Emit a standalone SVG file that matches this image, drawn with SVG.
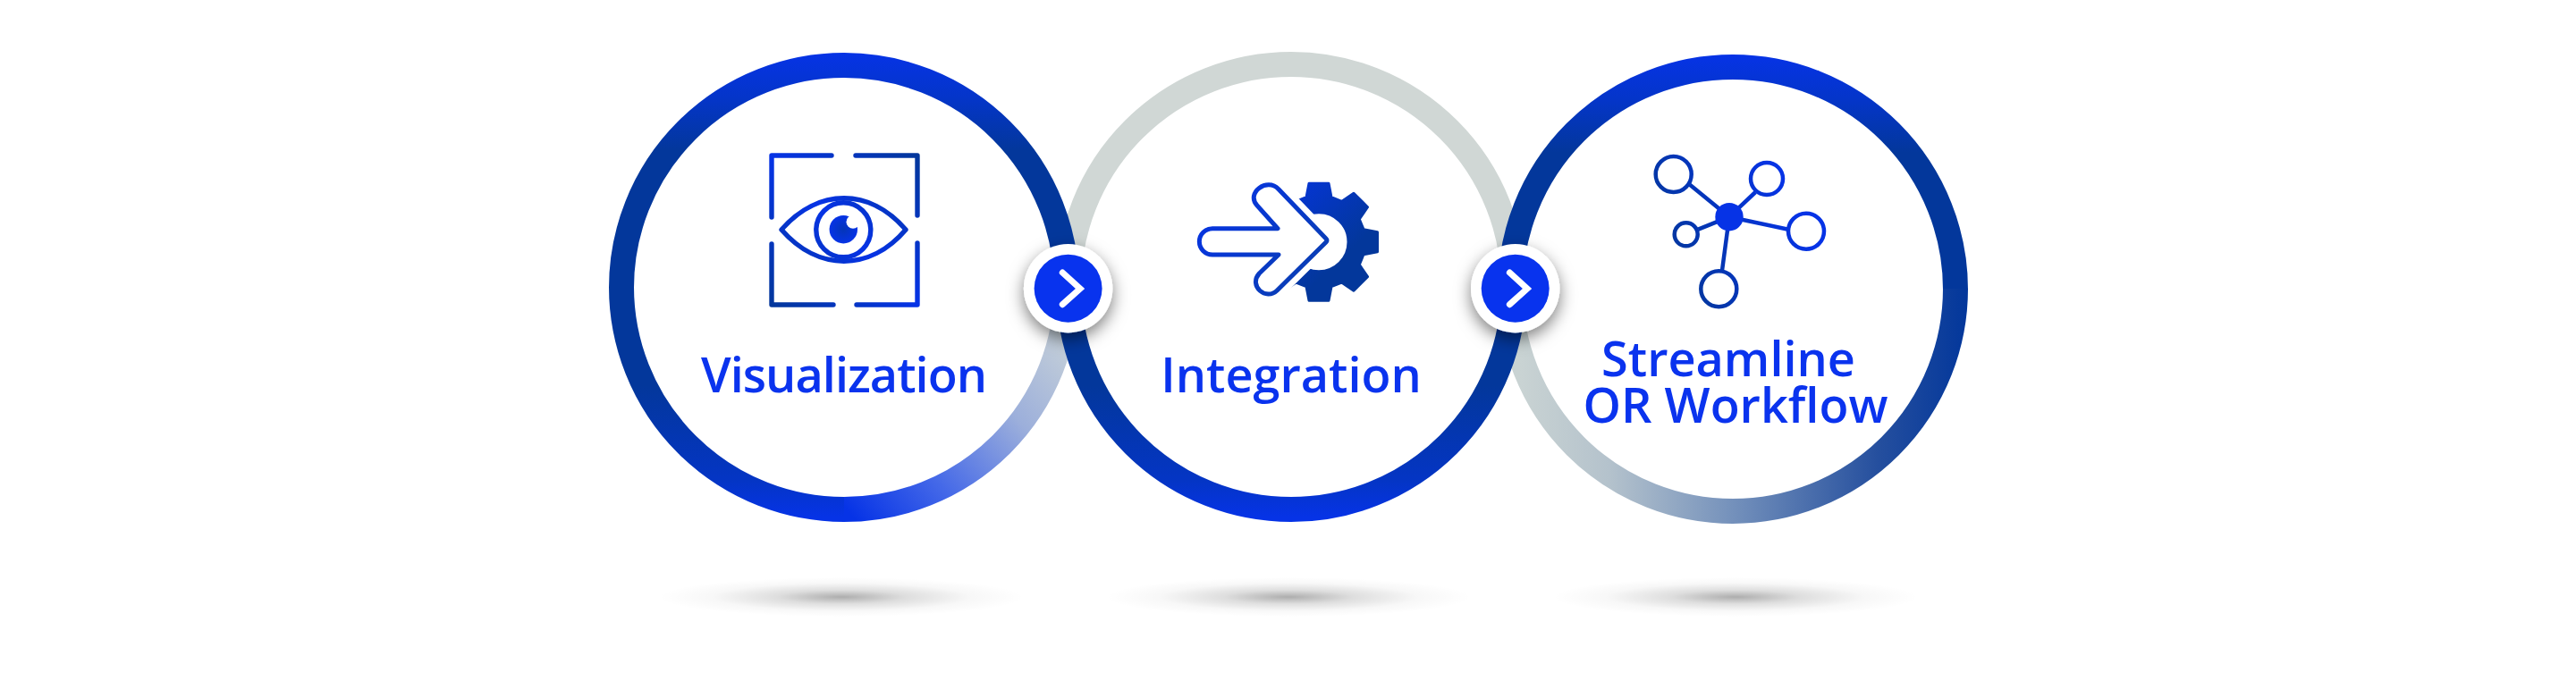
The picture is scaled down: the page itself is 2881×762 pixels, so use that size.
<svg xmlns="http://www.w3.org/2000/svg" width="2881" height="762" viewBox="0 0 2881 762">
<style>
.ring{fill:none;stroke-width:28}
.label{font-family:"Open Sans","Liberation Sans",sans-serif;font-weight:600;font-size:54px;fill:#0a33ee;text-anchor:middle}
.eye{fill:none;stroke:url(#eyeG);stroke-width:5.4;stroke-linecap:round;stroke-linejoin:round}
.net{fill:none;stroke:url(#netG);stroke-width:4.5}
.halo{fill:#fff;stroke:#fff;stroke-width:18;stroke-linejoin:round}
.btnOuter{fill:#fff;filter:url(#sh)}
.btnInner{fill:#0833ee}
.chev{fill:none;stroke:#fff;stroke-width:7;stroke-linecap:round;stroke-linejoin:miter}
</style>
<defs>
<filter id="sh" x="-60%" y="-60%" width="220%" height="220%"><feDropShadow dx="0" dy="7" stdDeviation="9" flood-color="#000" flood-opacity="0.5"/></filter>
<linearGradient id="c1t" gradientUnits="userSpaceOnUse" x1="0" y1="58" x2="0" y2="321"><stop offset="0" stop-color="#0633e6"/><stop offset=".2" stop-color="#0435c8"/><stop offset=".42" stop-color="#03379b"/></linearGradient>
<linearGradient id="c1b" gradientUnits="userSpaceOnUse" x1="0" y1="321" x2="0" y2="584"><stop offset=".42" stop-color="#03379b"/><stop offset=".82" stop-color="#0435c4"/><stop offset=".98" stop-color="#0633e6"/></linearGradient>
<linearGradient id="c1f" gradientUnits="userSpaceOnUse" x1="960" y1="585" x2="1200" y2="370"><stop offset="0" stop-color="#0633e6"/><stop offset=".3" stop-color="#4569e8"/><stop offset=".65" stop-color="#9cafdb"/><stop offset="1" stop-color="#c9d3d8"/></linearGradient>
<linearGradient id="c3t" gradientUnits="userSpaceOnUse" x1="0" y1="60" x2="0" y2="323"><stop offset="0" stop-color="#0633e6"/><stop offset=".2" stop-color="#0435c8"/><stop offset=".42" stop-color="#03379b"/></linearGradient>
<linearGradient id="c3f" gradientUnits="userSpaceOnUse" x1="1700" y1="0" x2="2200" y2="0"><stop offset="0" stop-color="#c9d3d3"/><stop offset=".2" stop-color="#b4c2cc"/><stop offset=".48" stop-color="#7390bb"/><stop offset=".8" stop-color="#254f9e"/><stop offset="1" stop-color="#03379b"/></linearGradient>
<linearGradient id="eyeG" gradientUnits="userSpaceOnUse" x1="860" y1="340" x2="1028" y2="174"><stop offset="0" stop-color="#03379b"/><stop offset=".5" stop-color="#0633e6"/><stop offset="1" stop-color="#03379b"/></linearGradient>
<radialGradient id="pup"><stop offset="0" stop-color="#0435b8"/><stop offset="1" stop-color="#0633e6"/></radialGradient>
<linearGradient id="arG" gradientUnits="userSpaceOnUse" x1="1340" y1="220" x2="1470" y2="330"><stop offset="0" stop-color="#0633e6"/><stop offset="1" stop-color="#0a3fb0"/></linearGradient>
<linearGradient id="gearG" gradientUnits="userSpaceOnUse" x1="-35" y1="-65" x2="35" y2="10"><stop offset="0" stop-color="#0535d8"/><stop offset="1" stop-color="#03379b"/></linearGradient>
<linearGradient id="netG" gradientUnits="userSpaceOnUse" x1="1870" y1="300" x2="2010" y2="235"><stop offset="0" stop-color="#03379b"/><stop offset="1" stop-color="#0633e6"/></linearGradient>
<radialGradient id="floor"><stop offset="0" stop-color="#000" stop-opacity=".32"/><stop offset=".35" stop-color="#000" stop-opacity=".13"/><stop offset=".7" stop-color="#000" stop-opacity=".03"/><stop offset="1" stop-color="#000" stop-opacity="0"/></radialGradient>
</defs>
<rect width="2881" height="762" fill="#fff"/>
<g id="shadows">
<ellipse cx="941" cy="668" rx="205" ry="22" fill="url(#floor)"/>
<ellipse cx="1441" cy="668" rx="205" ry="22" fill="url(#floor)"/>
<ellipse cx="1941" cy="668" rx="205" ry="22" fill="url(#floor)"/>
</g>
<g id="ring-integration-top"><path class="ring" stroke="#d0d7d5" d="M1195,321A249,249 0 0 1 1693,321"/></g>
<g id="node-visualization">
<path class="ring" stroke="url(#c1t)" d="M695,322A249,249 0 0 1 1193,322"/>
<path class="ring" stroke="url(#c1b)" d="M695,321A249,249 0 0 0 945,570"/>
<path class="ring" stroke="url(#c1f)" d="M944,570A249,249 0 0 0 1193,321"/>
<g>
<path class="eye" d="M930,174H863V243M957,174H1026V241M863,273V341H932M1026,272V341H958"/>
<path class="eye" d="M874,257C915,210 973,210 1013,257C973,304 915,304 874,257Z"/>
<circle class="eye" cx="943.3" cy="257.3" r="30.5"/>
<circle cx="943.3" cy="256.7" r="15.7" fill="url(#pup)"/>
<circle cx="954" cy="248.3" r="7.5" fill="#fff"/>
</g>
<text class="label" x="944" y="439" textLength="320" lengthAdjust="spacing">Visualization</text>
</g>
<g id="node-streamline">
<path class="ring" stroke="url(#c3t)" d="M1689,324A249,249 0 0 1 2187,324"/>
<path class="ring" stroke="url(#c3f)" d="M1689,323A249,249 0 0 0 2187,323"/>
<g>
<path class="net" d="M1890,206.7L1934,242.7M1963.3,215L1934,242.7M2000,256.7L1934,242.7M1899.3,256.7L1934,242.7M1926,302.7L1934,242.7"/>
<circle cx="1934" cy="242.7" r="15.7" fill="#0633e6"/>
<circle class="net" cx="1871.7" cy="195" r="20"/>
<circle class="net" cx="1976" cy="200" r="18"/>
<circle class="net" cx="2020" cy="258.7" r="20"/>
<circle class="net" cx="1885.7" cy="262.3" r="13"/>
<circle class="net" cx="1922.3" cy="323.3" r="20"/>
</g>
<text class="label" x="1933" y="421">Streamline</text>
<text class="label" x="1941" y="473">OR Workflow</text>
</g>
<g id="node-integration">
<path class="ring" stroke="url(#c1b)" d="M1195,321A249,249 0 0 0 1693,321"/>
<g>
<path fill="url(#gearG)" stroke="url(#gearG)" stroke-width="3" stroke-linejoin="round" fill-rule="evenodd" transform="translate(1475,270.7)" d="M-14,-50L-11,-65.5H11L14,-50L25.5,-45.3L39,-54.5L54.5,-39L45.3,-25.5L50,-14L65.5,-11V11L50,14L45.3,25.5L54.5,39L39,54.5L25.5,45.3L14,50L11,65.5H-11L-14,50L-25.5,45.3L-39,54.5L-54.5,39L-45.3,25.5L-50,14L-65.5,11V-11L-50,-14L-45.3,-25.5L-54.5,-39L-39,-54.5L-25.5,-45.3ZM33,0A33,33 0 1 0 -33,0A33,33 0 1 0 33,0Z"/>
<path class="halo" d="M1429,255.7H1356A14.6,14.6 0 0 0 1356,285H1430L1408.3,306C1396,320 1416,337 1428.3,325L1483,271Q1485,269 1483,267L1430,211.7C1417,198 1393,216 1406,230Z"/>
<path fill="#fff" stroke="url(#arG)" stroke-width="5" stroke-linejoin="round" d="M1429,255.7H1356A14.6,14.6 0 0 0 1356,285H1430L1408.3,306C1396,320 1416,337 1428.3,325L1483,271Q1485,269 1483,267L1430,211.7C1417,198 1393,216 1406,230Z"/>
</g>
<text class="label" x="1444" y="439">Integration</text>
</g>
<g id="connectors">
<g><circle class="btnOuter" cx="1194.6" cy="322.7" r="49.7"/><circle class="btnInner" cx="1194.6" cy="322.7" r="38"/><path class="chev" d="M1188.3,305L1208,323L1188.3,340.7"/></g>
<g><circle class="btnOuter" cx="1694.7" cy="322.7" r="49.7"/><circle class="btnInner" cx="1694.7" cy="322.7" r="38"/><path class="chev" d="M1688.4,305L1708,323L1688.4,340.7"/></g>
</g>
</svg>
